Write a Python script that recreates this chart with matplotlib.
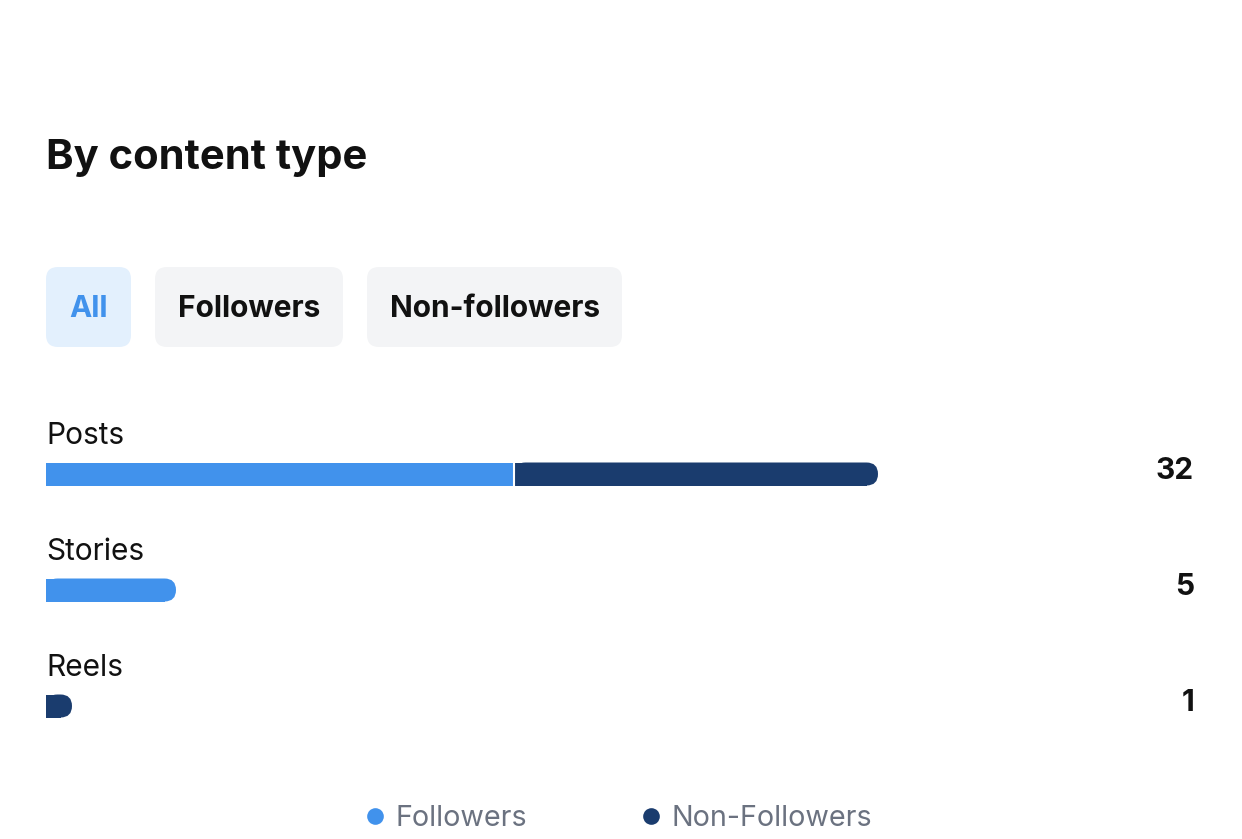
import matplotlib.pyplot as plt
from matplotlib.patches import FancyBboxPatch, Rectangle

plt.rcParams['font.family'] = ['Inter', 'DejaVu Sans']

# data
categories = ['Posts', 'Stories', 'Reels']
followers = [18, 5, 0]
non_followers = [14, 0, 1]
totals = [32, 5, 1]
tabs = ['All', 'Followers', 'Non-followers']

c_fol = '#4192EC'
c_non = '#1A3C6E'

W, H = 1242, 839
fig = plt.figure(figsize=(W / 100, H / 100), dpi=100)

# overlay in pixel coords for title / tabs / legend
ov = fig.add_axes([0, 0, 1, 1])
ov.set_xlim(0, W)
ov.set_ylim(H, 0)
ov.axis('off')

ov.text(46, 158, 'By content type', fontsize=30, fontweight='bold',
        color='#111111', va='center', ha='left')

tab_boxes = [(46, 131), (155, 343), (367, 622)]
for (x0, x1), name in zip(tab_boxes, tabs):
    active = name == 'All'
    ov.add_patch(FancyBboxPatch((x0 + 12, 267 + 12), x1 - x0 - 24, 80 - 24,
                                boxstyle='round,pad=12',
                                fc='#E3F0FD' if active else '#F3F4F6', ec='none'))
    ov.text((x0 + x1) / 2, 309, name, fontsize=21.5, fontweight='bold',
            color=c_fol if active else '#111111', ha='center', va='center')

# legend
for cx, col, lab in [(375, c_fol, 'Followers'), (651, c_non, 'Non-Followers')]:
    ov.plot(cx, 816, 'o', ms=12, color=col, mec='none')
    ov.text(cx + 21, 818, lab, fontsize=20.7, color='#6B7280', ha='left', va='center')

# bars axes: x 46..1194 px, y 400..760 px
ax = fig.add_axes([46 / W, (H - 760) / H, (1194 - 46) / W, 360 / H])
px_per_unit = 26
xmax = (1194 - 46) / px_per_unit
ax.set_xlim(0, xmax)
ax.set_ylim(2 + 54 / 116, -74 / 116)
ax.axis('off')

bar_h = 23 / 116
r = 11.5 / px_per_unit
aspect = px_per_unit / 116


def rounded_end(x0, w, y, col):
    ax.add_patch(FancyBboxPatch((x0, y - bar_h / 2), w, bar_h,
                                boxstyle='round,pad=0,rounding_size=%f' % r,
                                mutation_aspect=aspect, fc=col, ec='none'))
    ax.add_patch(Rectangle((x0, y - bar_h / 2), max(w - r, 0), bar_h,
                           fc=col, ec='none'))


for i, cat in enumerate(categories):
    f, n = followers[i], non_followers[i]
    if n > 0:
        if f > 0:
            ax.barh(i, f, height=bar_h, color=c_fol, edgecolor='none')
        rounded_end(f, n, i, c_non)
        if f > 0:
            ax.plot([f, f], [i - bar_h / 2, i + bar_h / 2], color='white', lw=1.5)
    else:
        rounded_end(0, f, i, c_fol)
    ax.text(0, i - 0.26, cat, fontsize=21.5, color='#111111', ha='left', va='baseline')
    ax.text(1.0, i - 0.03, str(totals[i]), transform=ax.get_yaxis_transform(),
            fontsize=21.5, fontweight='bold', color='#111111', ha='right', va='center')

fig.savefig('out.png', dpi=100, facecolor='white')
